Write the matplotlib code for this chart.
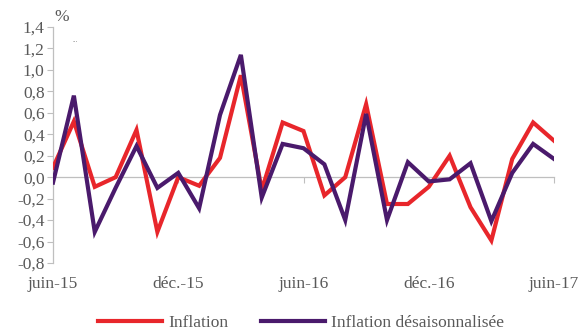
import matplotlib
matplotlib.use("Agg")
import matplotlib.pyplot as plt
from matplotlib.ticker import FuncFormatter, FixedLocator

# Monthly inflation (%), June 2015 to June 2017
months = list(range(25))
inflation = [0.09, 0.52, -0.09, 0.00, 0.44, -0.51, 0.00, -0.08, 0.18, 0.95,
             -0.12, 0.51, 0.43, -0.17, 0.00, 0.68, -0.25, -0.25, -0.09, 0.20,
             -0.28, -0.59, 0.17, 0.51, 0.34]
inflation_sa = [-0.05, 0.76, -0.51, -0.10, 0.29, -0.10, 0.04, -0.29, 0.58, 1.14,
                -0.19, 0.31, 0.27, 0.12, -0.40, 0.59, -0.40, 0.14, -0.04, -0.02,
                0.13, -0.41, 0.04, 0.31, 0.17]
tick_positions = [0, 6, 12, 18, 24]
tick_labels = ["juin-15", "déc.-15", "juin-16", "déc.-16", "juin-17"]
y_ticks = [-0.8, -0.6, -0.4, -0.2, 0.0, 0.2, 0.4, 0.6, 0.8, 1.0, 1.2, 1.4]

RED = "#E8262B"
PURPLE = "#4A1A6C"
GREY_TXT = "#595959"
GREY_LINE = "#BFBFBF"
FS = 12.5

plt.rcParams["font.family"] = ["Liberation Serif", "DejaVu Serif"]

fig = plt.figure(figsize=(5.83, 3.34), dpi=100)
ax = fig.add_axes([53 / 583, 1 - 263 / 334, (554 - 53) / 583, (263 - 27) / 334])

ax.plot(months, inflation, color=RED, lw=3.0, solid_joinstyle="miter",
        label="Inflation", zorder=3)
ax.plot(months, inflation_sa, color=PURPLE, lw=3.0, solid_joinstyle="miter",
        label="Inflation désaisonnalisée", zorder=4)

ax.set_xlim(0, 24)
ax.set_ylim(-0.8, 1.4)

# y axis
ax.yaxis.set_major_locator(FixedLocator(y_ticks))
ax.yaxis.set_major_formatter(FuncFormatter(lambda v, p: f"{v:.1f}".replace(".", ",")))
ax.tick_params(axis="y", direction="out", length=4, width=0.8, color=GREY_LINE,
               labelcolor=GREY_TXT, labelsize=FS, pad=2)
ax.spines["left"].set_color(GREY_LINE)
ax.spines["left"].set_linewidth(0.9)

# x axis line at zero with small outward ticks
ax.spines["bottom"].set_position(("data", 0))
ax.spines["bottom"].set_color(GREY_LINE)
ax.spines["bottom"].set_linewidth(0.9)
ax.set_xticks(tick_positions)
ax.tick_params(axis="x", direction="out", length=4, width=0.8, color=GREY_LINE,
               labelbottom=False)
for s in ("top", "right"):
    ax.spines[s].set_visible(False)

# month labels along the bottom
sec = ax.secondary_xaxis("bottom")
sec.set_xticks(tick_positions)
sec.set_xticklabels(tick_labels)
sec.spines["bottom"].set_visible(False)
sec.tick_params(axis="x", length=0, labelcolor=GREY_TXT, labelsize=FS, pad=9)

fig.text(62 / 583, 1 - 17 / 334, "%", color=GREY_TXT, fontsize=FS,
         ha="center", va="center")
fig.text(75 / 583, 1 - 41 / 334, "...", color=GREY_TXT, fontsize=5,
         ha="center", va="center")

leg = fig.legend(loc="center", bbox_to_anchor=(301 / 583, 1 - 323 / 334), ncol=2,
                 frameon=False, fontsize=FS, handlelength=3.7, handletextpad=0.35,
                 columnspacing=1.9, labelcolor=GREY_TXT)
for line in leg.get_lines():
    line.set_linewidth(3.0)

fig.savefig("out.png", dpi=100)
